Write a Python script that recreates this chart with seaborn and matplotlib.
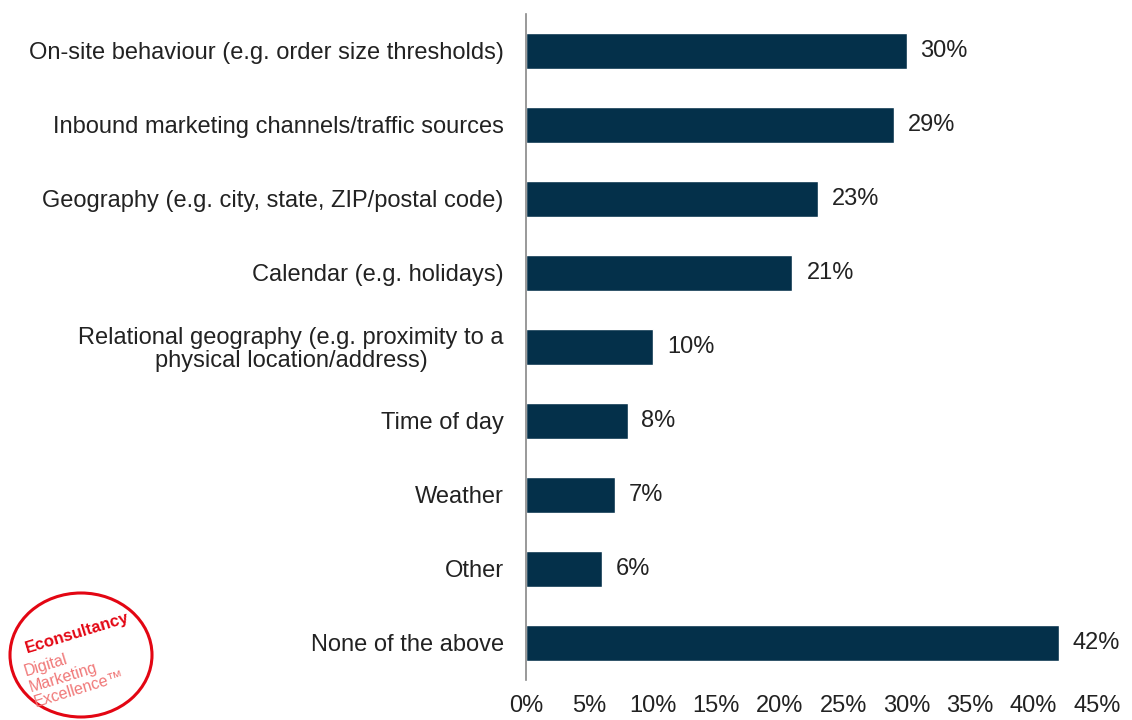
import matplotlib
matplotlib.use("Agg")
import matplotlib.pyplot as plt
import seaborn as sns
import pandas as pd
from matplotlib.patches import Ellipse

# --- Datos ---
categories = [
    "On-site behaviour (e.g. order size thresholds)",
    "Inbound marketing channels/traffic sources",
    "Geography (e.g. city, state, ZIP/postal code)",
    "Calendar (e.g. holidays)",
    "Relational geography (e.g. proximity to a\nphysical location/address)",
    "Time of day",
    "Weather",
    "Other",
    "None of the above",
]
values = [30, 29, 23, 21, 10, 8, 7, 6, 42]
x_ticks = [0, 5, 10, 15, 20, 25, 30, 35, 40, 45]

df = pd.DataFrame({"category": categories, "value": values})

sns.set_style("white")
plt.rcParams["font.family"] = ["Liberation Sans", "DejaVu Sans"]

fig = plt.figure(figsize=(11.32, 7.2), dpi=100)
ax = fig.add_axes([0.4647, 0.0556, 0.5043, 0.925])

sns.barplot(data=df, x="value", y="category", color="#04304a", width=0.49,
            saturation=1, ax=ax)

ax.set_xlim(0, 45)
ax.set_ylim(8.5, -0.5)
ax.set_xticks(x_ticks)
ax.set_xticklabels([f"{t}%" for t in x_ticks], fontsize=17, color="#222222")
ax.tick_params(axis="y", labelsize=17, labelcolor="#222222", length=0, pad=16)
ax.tick_params(axis="x", length=0, pad=11)
ax.set_xlabel("")
ax.set_ylabel("")
for lbl in ax.get_yticklabels():
    lbl.set_horizontalalignment("right")
    lbl.set_multialignment("center")
    lbl.set_linespacing(1.05)

for s in ["top", "right", "bottom"]:
    ax.spines[s].set_visible(False)
ax.spines["left"].set_color("#888888")
ax.spines["left"].set_linewidth(1.2)

# etiquetas de valores
for i, v in enumerate(values):
    ax.text(v + 1.1, i, f"{v}%", va="center", ha="left", fontsize=17, color="#222222")

# --- Logo ---
logo = Ellipse((81 / 1132, 1 - 655 / 720), 142 / 1132, 124 / 720, transform=fig.transFigure,
               fill=False, edgecolor="#e30613", linewidth=2.2)
fig.patches.append(logo)
fig.text(77 / 1132, 1 - 633 / 720, "Econsultancy", transform=fig.transFigure, rotation=17,
         ha="center", va="center", fontsize=12, fontweight="bold", color="#e30613")
fig.text(74 / 1132, 1 - 674 / 720, "Digital\nMarketing\nExcellence\u2122", transform=fig.transFigure,
         rotation=17, ha="center", va="center", multialignment="left", fontsize=11.5,
         color="#f07878", linespacing=1.1)

fig.savefig("out.png", dpi=100)
